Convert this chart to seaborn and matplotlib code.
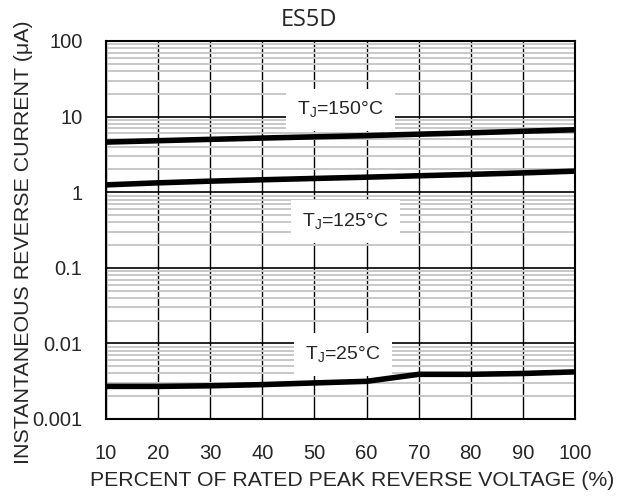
import pandas as pd
import matplotlib
matplotlib.use("Agg")
import matplotlib.pyplot as plt
import seaborn as sns
from matplotlib.ticker import LogLocator, FixedLocator, NullFormatter

# ================================
# Data
# ================================
voltage_pct = [10, 20, 30, 40, 50, 60, 70, 80, 90, 100]
ir_150c = [4.6, 4.8, 5.0, 5.2, 5.4, 5.6, 5.85, 6.1, 6.4, 6.7]
ir_125c = [1.25, 1.33, 1.40, 1.46, 1.52, 1.58, 1.65, 1.72, 1.80, 1.90]
ir_25c = [0.0027, 0.0027, 0.00275, 0.00285, 0.0030, 0.00315, 0.0039, 0.0039, 0.0040, 0.0042]

x_ticks = [10, 20, 30, 40, 50, 60, 70, 80, 90, 100]
y_ticks = [0.001, 0.01, 0.1, 1, 10, 100]
y_tick_labels = ["0.001", "0.01", "0.1", "1", "10", "100"]

df = pd.DataFrame({
    "Voltage": voltage_pct * 3,
    "Current": ir_150c + ir_125c + ir_25c,
    "Tj": ["150"] * 10 + ["125"] * 10 + ["25"] * 10,
})

# ================================
# Plot
# ================================
sns.set_style("white")
plt.rcParams["font.family"] = ["Liberation Sans", "DejaVu Sans"]

fig = plt.figure(figsize=(6.22, 5.01), dpi=100)
ax = fig.add_axes([106 / 622, 1 - 419 / 501, (575 - 106) / 622, (419 - 41) / 501])

sns.lineplot(data=df, x="Voltage", y="Current", hue="Tj", units="Tj", estimator=None,
             palette=["black", "black", "black"], linewidth=4, legend=False, ax=ax,
             zorder=5)

ax.set_yscale("log")
ax.set_xlim(10, 100)
ax.set_ylim(0.001, 100)

ax.xaxis.set_major_locator(FixedLocator(x_ticks))
ax.set_xticklabels([str(v) for v in x_ticks])
ax.yaxis.set_major_locator(FixedLocator(y_ticks))
ax.set_yticklabels(y_tick_labels)
ax.yaxis.set_minor_locator(LogLocator(base=10, subs=range(2, 10), numticks=20))
ax.yaxis.set_minor_formatter(NullFormatter())

ax.grid(True, which="major", axis="x", color="black", linewidth=1.0, zorder=1)
ax.grid(True, which="major", axis="y", color="black", linewidth=1.2, zorder=1)
ax.grid(True, which="minor", axis="y", color="#c8c8c8", linewidth=1.4, zorder=0)
ax.set_axisbelow(True)

ax.tick_params(axis="both", which="both", length=0, labelsize=14.5)
ax.tick_params(axis="y", pad=17)
ax.tick_params(axis="x", pad=18)
for s in ax.spines.values():
    s.set_visible(True)
    s.set_color("black")
    s.set_linewidth(1.5)

ax.set_xlabel("")
ax.set_ylabel("")

# curve labels with white boxes
box = dict(facecolor="white", edgecolor="none", pad=8)
ax.text(55, 12.3, "T$_\\mathregular{J}$=150\u00b0C", fontsize=14, ha="center", va="center",
        bbox=box, zorder=4)
ax.text(56, 0.41, "T$_\\mathregular{J}$=125\u00b0C", fontsize=14, ha="center", va="center",
        bbox=box, zorder=4)
ax.text(55.5, 0.0071, "T$_\\mathregular{J}$=25\u00b0C", fontsize=14, ha="center", va="center",
        bbox=box, zorder=4)

fig.text(309 / 622, 1 - 20 / 501, "ES5D", family="Open Sans", fontsize=17,
         ha="center", va="center")
fig.text(352 / 622, 1 - 481 / 501, "PERCENT OF RATED PEAK REVERSE VOLTAGE (%)",
         fontsize=15.3, ha="center", va="center")
fig.text(24 / 622, 1 - 242 / 501, "INSTANTANEOUS REVERSE CURRENT (\u03bcA)",
         fontsize=15.4, ha="center", va="center", rotation=90)

plt.savefig("out.png", dpi=100)
